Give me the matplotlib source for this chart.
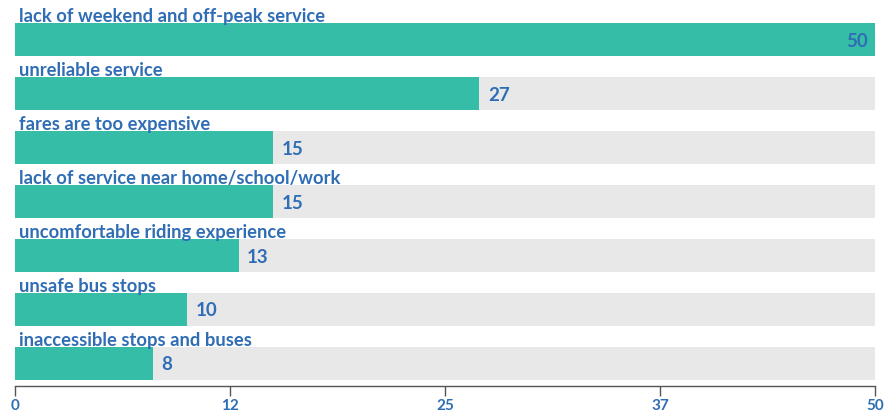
import matplotlib.pyplot as plt

categories = ["lack of weekend and off-peak service", "unreliable service",
              "fares are too expensive", "lack of service near home/school/work",
              "uncomfortable riding experience", "unsafe bus stops",
              "inaccessible stops and buses"]
values = [50, 27, 15, 15, 13, 10, 8]
max_value = 50
tick_pos = [0, 12.5, 25, 37.5, 50]
tick_labels = ["0", "12", "25", "37", "50"]

teal = "#36bda7"
track = "#e8e8e8"
blue = "#2f6db5"

plt.rcParams['font.family'] = ['Lato', 'DejaVu Sans']

fig = plt.figure(figsize=(8.84, 4.17), dpi=100)
ax = fig.add_axes([15/884, 31/417, 860/884, 386/417])

h = 33/54
y = list(range(len(values)))
ax.barh(y, [max_value]*len(values), height=h, color=track, zorder=1)
ax.barh(y, values, height=h, color=teal, zorder=2)

for i, (c, v) in enumerate(zip(categories, values)):
    ax.text(0.25, i - h/2 - 0.02, c, color=blue, fontsize=13.2, fontweight='bold',
            ha='left', va='baseline', zorder=3)
    if v >= max_value:
        ax.text(v - 0.4, i + 0.03, str(v), color=blue, fontsize=13.5, fontweight='bold',
                ha='right', va='center', zorder=3)
    else:
        ax.text(v + 0.5, i + 0.03, str(v), color=blue, fontsize=13.5, fontweight='bold',
                ha='left', va='center', zorder=3)

ax.set_xlim(0, max_value)
ax.set_ylim(6.42, -39.5/54)
ax.set_yticks([])
for s in ['top', 'right', 'left']:
    ax.spines[s].set_visible(False)
ax.spines['bottom'].set_color('#555555')
ax.spines['bottom'].set_linewidth(1)
ax.set_xticks(tick_pos)
ax.set_xticklabels(tick_labels)
ax.tick_params(axis='x', direction='out', length=7, width=1, color='#555555',
               labelcolor=blue, labelsize=11, pad=2)
for t in ax.get_xticklabels():
    t.set_fontweight('bold')

fig.savefig("out.png", dpi=100)
